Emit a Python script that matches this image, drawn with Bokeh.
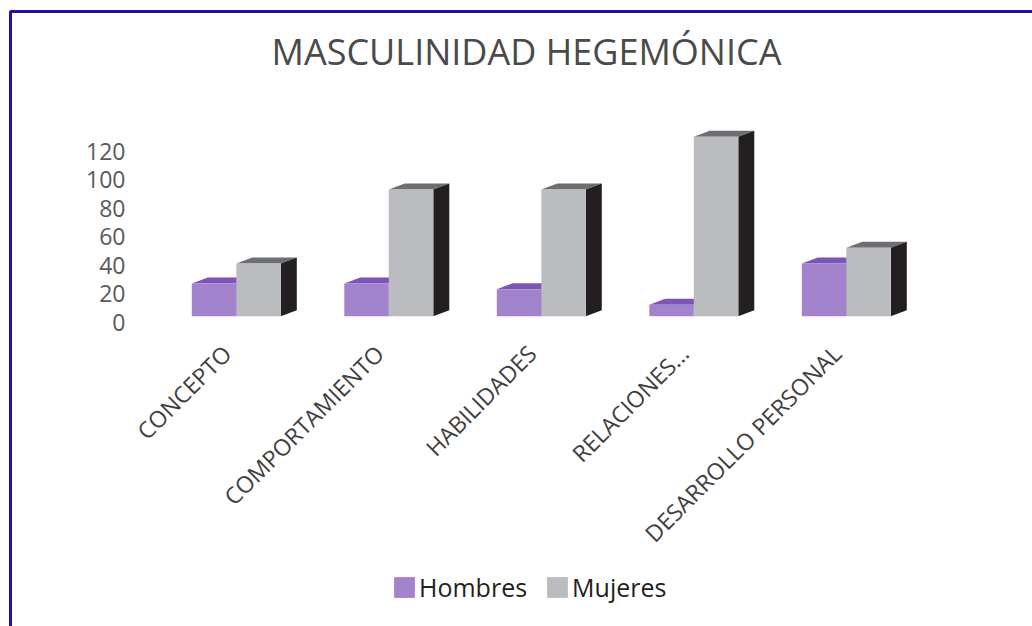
from math import pi
from bokeh.plotting import figure
from bokeh.models import (Range1d, FixedTicker, Legend, LegendItem, Label,
                          BoxAnnotation)
from bokeh.embed import file_html
from bokeh.resources import INLINE

# ---------------- data ----------------
categories = ["CONCEPTO", "COMPORTAMIENTO", "HABILIDADES", "RELACIONES...", "DESARROLLO PERSONAL"]
hombres = [23, 23, 19, 8, 37]
mujeres = [37, 89, 89, 126, 48]
y_ticks = [0, 20, 40, 60, 80, 100, 120]
series_names = ["Hombres", "Mujeres"]
title_text = "MASCULINIDAD HEGEMÓNICA"

# ---------------- layout / style ----------------
W, H = 1032, 626
PXX = 152.5            # px per category
PXY = 28.5 / 20        # px per value unit
X_ORG = 226.3          # canvas x of first category
Y_ORG = 321.7          # canvas y of value 0

X0 = -X_ORG / PXX
X1 = X0 + W / PXX
Y1 = Y_ORG / PXY
Y0 = Y1 - H / PXY

def dx(px):
    return px / PXX

def dy(px):
    return px / PXY

def cx(px):          # canvas x -> data x
    return (px - X_ORG) / PXX

def cy(py):          # canvas y -> data y
    return (Y_ORG - py) / PXY

BAR_W = dx(44.5)
SHIFT = dx(9.5)
DEPTH_X = dx(16)
DEPTH_Y = dy(6)
BASE = dy(6)

colors = {
    "Hombres": ("#a383cc", "#7b55b8", "#5b3d90"),
    "Mujeres": ("#bbbcc0", "#6d6e71", "#231f20"),
}

p = figure(width=W, height=H, output_backend="svg", toolbar_location=None,
           title=None, x_range=Range1d(X0, X1), y_range=Range1d(Y0, Y1),
           min_border=0, min_border_left=0, min_border_right=0,
           min_border_top=0, min_border_bottom=0)
p.outline_line_color = None
p.background_fill_color = "white"
p.border_fill_color = "white"
p.xgrid.visible = False
p.ygrid.visible = False

font = "Open Sans"

# y axis
p.yaxis.fixed_location = cx(150)
p.yaxis.ticker = FixedTicker(ticks=y_ticks)
p.yaxis.axis_line_color = None
p.yaxis.major_tick_line_color = None
p.yaxis.minor_tick_line_color = None
p.yaxis.major_tick_out = 0
p.yaxis.major_tick_in = 0
p.yaxis.major_label_standoff = 25
p.yaxis.major_label_text_font = font
p.yaxis.major_label_text_font_size = "23px"
p.yaxis.major_label_text_color = "#595959"

# x axis
p.xaxis.fixed_location = 0
p.xaxis.ticker = FixedTicker(ticks=list(range(len(categories))))
p.xaxis.major_label_overrides = {i: c for i, c in enumerate(categories)}
p.xaxis.major_label_orientation = pi / 4
p.xaxis.axis_line_color = None
p.xaxis.major_tick_line_color = None
p.xaxis.minor_tick_line_color = None
p.xaxis.major_tick_out = 0
p.xaxis.major_tick_in = 0
p.xaxis.major_label_standoff = 27
p.xaxis.major_label_text_font = font
p.xaxis.major_label_text_font_size = "23px"
p.xaxis.major_label_text_color = "#404040"

renderers = {}
for s, (name, vals) in enumerate(zip(series_names, [hombres, mujeres])):
    front, top_c, side_c = colors[name]
    lefts, rights, bottoms, tops = [], [], [], []
    top_xs, top_ys, side_xs, side_ys = [], [], [], []
    for i, v in enumerate(vals):
        x0 = i + SHIFT + (s - 1) * BAR_W
        x1 = x0 + BAR_W
        b = BASE
        t = BASE + v
        lefts.append(x0); rights.append(x1); bottoms.append(b); tops.append(t)
        top_xs.append([x0, x0 + DEPTH_X, x1 + DEPTH_X, x1])
        top_ys.append([t, t + DEPTH_Y, t + DEPTH_Y, t])
        side_xs.append([x1, x1 + DEPTH_X, x1 + DEPTH_X, x1])
        side_ys.append([b, b + DEPTH_Y, t + DEPTH_Y, t])
    p.patches(top_xs, top_ys, fill_color=top_c, line_color=None)
    p.patches(side_xs, side_ys, fill_color=side_c, line_color=None)
    r = p.quad(left=lefts, right=rights, bottom=bottoms, top=tops,
               fill_color=front, line_color=None)
    renderers[name] = r

legend = Legend(items=[LegendItem(label=n, renderers=[renderers[n]]) for n in series_names],
                orientation="horizontal", location=(391, 22),
                glyph_width=26, glyph_height=26, label_height=26,
                label_standoff=2, spacing=17, padding=0, margin=0,
                border_line_color=None, background_fill_alpha=0,
                label_text_font=font, label_text_font_size="25px",
                label_text_color="#231f20")
p.add_layout(legend, "center")

title = Label(x=cx(526), y=cy(51), text=title_text, text_align="center",
              text_baseline="alphabetic", text_font=font,
              text_font_size="36px", text_color="#4a4a4a")
p.add_layout(title)

border = BoxAnnotation(left=cx(10), right=cx(W + 20), top=cy(11), bottom=cy(H + 20),
                       fill_color=None, fill_alpha=0, line_color="#2b0ca6",
                       line_width=3, line_alpha=1)
p.add_layout(border)

open("out.html", "w").write(file_html(p, INLINE))
